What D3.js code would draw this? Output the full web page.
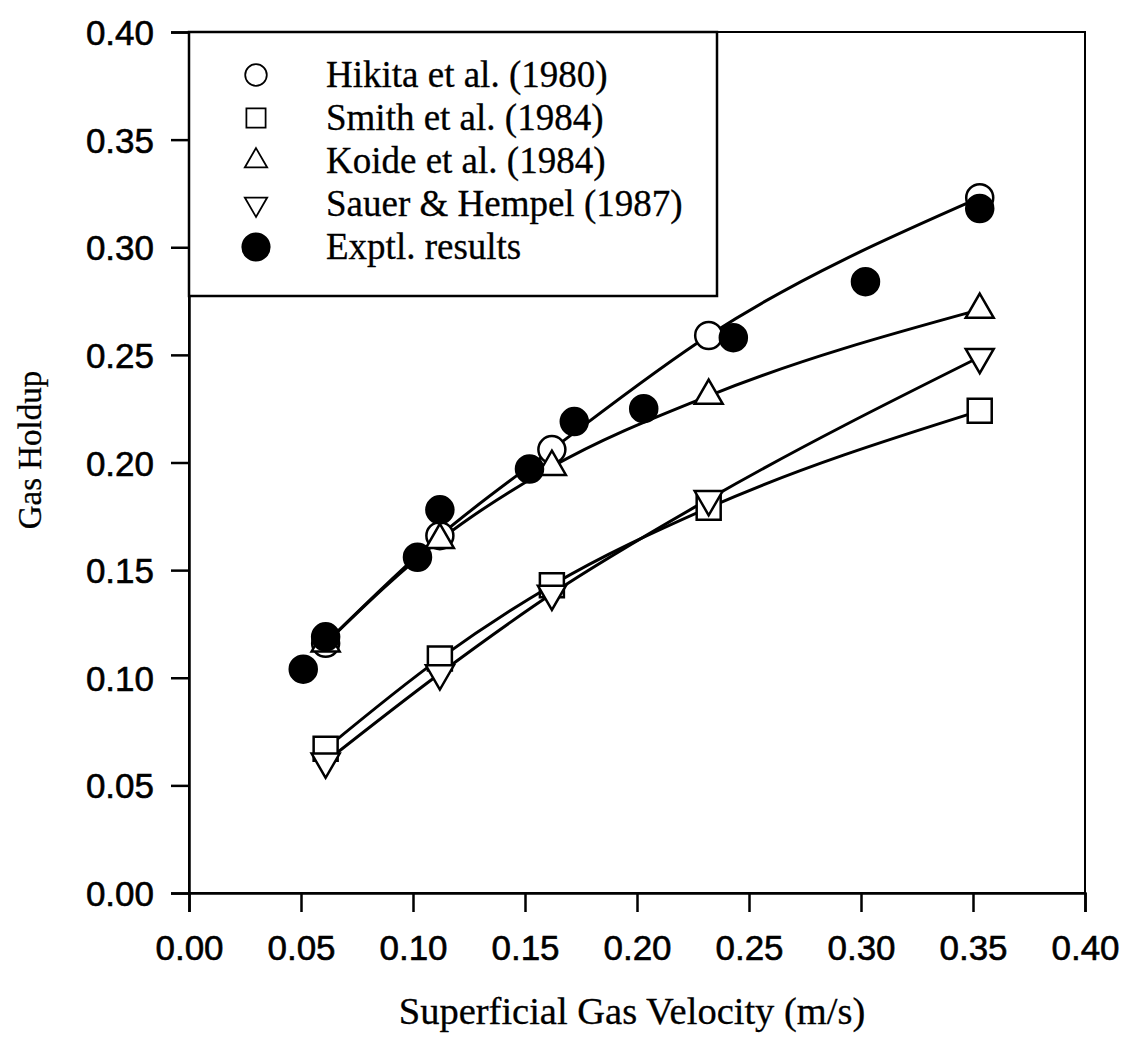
<!DOCTYPE html>
<html>
<head>
<meta charset="utf-8">
<script src="https://cdn.jsdelivr.net/npm/d3@7"></script>
<style>
  html, body { margin: 0; padding: 0; background: #fff; }
  svg { display: block; }
</style>
</head>
<body>
<svg id="chart" width="1128" height="1042"></svg>
<script>
// Gas holdup vs superficial gas velocity: four correlations and experimental data
const corrVelocity = [0.061, 0.112, 0.162, 0.232, 0.353];
const hikita = [0.116, 0.166, 0.206, 0.259, 0.323];
const smith  = [0.067, 0.109, 0.143, 0.179, 0.224];
const koide  = [0.116, 0.164, 0.198, 0.231, 0.271];
const sauer  = [0.061, 0.102, 0.139, 0.183, 0.249];

const exptlVelocity = [0.051, 0.061, 0.102, 0.112, 0.152, 0.172, 0.203, 0.243, 0.302, 0.353];
const exptlHoldup   = [0.104, 0.119, 0.156, 0.178, 0.197, 0.219, 0.225, 0.258, 0.284, 0.318];

const xTicks = [0.00, 0.05, 0.10, 0.15, 0.20, 0.25, 0.30, 0.35, 0.40];
const yTicks = [0.00, 0.05, 0.10, 0.15, 0.20, 0.25, 0.30, 0.35, 0.40];

const legendLabels = ["Hikita et al. (1980)", "Smith et al. (1984)", "Koide et al. (1984)",
                      "Sauer & Hempel (1987)", "Exptl. results"];

const svg = d3.select("#chart");
const plotLeft = 189, plotRight = 1085, plotTop = 32, plotBottom = 893;

const x = d3.scaleLinear().domain([0, 0.40]).range([plotLeft, plotRight]);
const y = d3.scaleLinear().domain([0, 0.40]).range([plotBottom, plotTop]);

// frame
svg.append("rect")
  .attr("x", plotLeft).attr("y", plotTop)
  .attr("width", plotRight - plotLeft).attr("height", plotBottom - plotTop)
  .attr("fill", "none").attr("stroke", "#000").attr("stroke-width", 2);

// axes
const xAxis = svg.append("g")
  .attr("transform", `translate(0,${plotBottom})`)
  .call(d3.axisBottom(x).tickValues(xTicks).tickFormat(d3.format(".2f"))
        .tickSizeOuter(0).tickSize(19).tickPadding(23));
const yAxis = svg.append("g")
  .attr("transform", `translate(${plotLeft},0)`)
  .call(d3.axisLeft(y).tickValues(yTicks).tickFormat(d3.format(".2f"))
        .tickSizeOuter(0).tickSize(18).tickPadding(17));

[xAxis, yAxis].forEach(g => {
  g.select(".domain").attr("stroke", "#000").attr("stroke-width", 2.5);
  g.selectAll(".tick line").attr("stroke", "#000").attr("stroke-width", 2.5);
  g.selectAll(".tick text")
    .attr("fill", "#000")
    .attr("stroke", "#000").attr("stroke-width", 0.6)
    .style("font-family", "'Liberation Sans', Arial, sans-serif")
    .style("font-size", "35px");
});
yAxis.selectAll(".tick text").attr("dy", "0.36em");

// axis titles
svg.append("text")
  .attr("x", (plotLeft + plotRight) / 2 - 5).attr("y", 1024)
  .attr("text-anchor", "middle")
  .attr("stroke", "#000").attr("stroke-width", 0.3)
  .style("font-family", "'Liberation Serif', 'Times New Roman', serif")
  .style("font-size", "38.5px")
  .text("Superficial Gas Velocity (m/s)");

svg.append("text")
  .attr("transform", "translate(41,450) rotate(-90)")
  .attr("text-anchor", "middle")
  .attr("stroke", "#000").attr("stroke-width", 0.3)
  .style("font-family", "'Liberation Serif', 'Times New Roman', serif")
  .style("font-size", "33px")
  .text("Gas Holdup");

// smooth curves for the correlations
const line = d3.line()
  .x(d => x(d[0])).y(d => y(d[1]))
  .curve(d3.curveMonotoneX);

const correlations = [hikita, smith, koide, sauer];
correlations.forEach(vals => {
  svg.append("path")
    .datum(corrVelocity.map((v, i) => [v, vals[i]]))
    .attr("d", line)
    .attr("fill", "none")
    .attr("stroke", "#000")
    .attr("stroke-width", 3);
});

// marker shapes
const sym = {
  circle: d3.symbol().type(d3.symbolCircle).size(Math.PI * 13.5 * 13.5)(),
  square: d3.symbol().type(d3.symbolSquare).size(24 * 24)(),
  triangle: d3.symbol().type(d3.symbolTriangle).size(Math.sqrt(3) / 4 * 28 * 28)()
};

function drawMarkers(xs, ys, shape, filled, rotate) {
  svg.append("g").selectAll("path")
    .data(xs.map((v, i) => [v, ys[i]]))
    .join("path")
    .attr("d", sym[shape])
    .attr("transform", d => `translate(${x(d[0])},${y(d[1])})` + (rotate ? " rotate(180)" : ""))
    .attr("fill", filled ? "#000" : "#fff")
    .attr("stroke", "#000")
    .attr("stroke-width", 2.5);
}

drawMarkers(corrVelocity, hikita, "circle", false, false);
drawMarkers(corrVelocity, smith, "square", false, false);
drawMarkers(corrVelocity, koide, "triangle", false, false);
drawMarkers(corrVelocity, sauer, "triangle", false, true);
drawMarkers(exptlVelocity, exptlHoldup, "circle", true, false);

// legend
const legend = svg.append("g");
legend.append("rect")
  .attr("x", plotLeft).attr("y", plotTop)
  .attr("width", 717 - plotLeft).attr("height", 296 - plotTop)
  .attr("fill", "#fff").attr("stroke", "#000").attr("stroke-width", 2.5);

const legendShapes = [
  {shape: "circle", filled: false, rotate: false},
  {shape: "square", filled: false, rotate: false},
  {shape: "triangle", filled: false, rotate: false},
  {shape: "triangle", filled: false, rotate: true},
  {shape: "circle", filled: true, rotate: false}
];
legendLabels.forEach((label, i) => {
  const cy = 75 + i * 43;
  const s = legendShapes[i];
  const scale = s.filled ? 1 : 0.8;
  legend.append("path")
    .attr("d", sym[s.shape])
    .attr("transform", `translate(256,${cy}) scale(${scale})` + (s.rotate ? " rotate(180)" : ""))
    .attr("fill", s.filled ? "#000" : "#fff")
    .attr("stroke", "#000").attr("stroke-width", 2.2);
  legend.append("text")
    .attr("x", 326).attr("y", cy + 12)
    .attr("stroke", "#000").attr("stroke-width", 0.3)
    .style("font-family", "'Liberation Serif', 'Times New Roman', serif")
    .style("font-size", "37px")
    .text(label);
});
</script>
</body>
</html>
